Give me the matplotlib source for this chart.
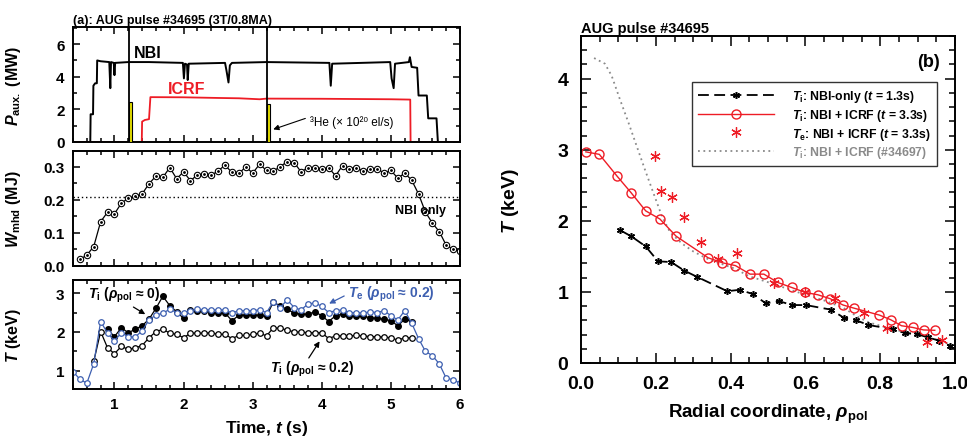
import matplotlib
matplotlib.use('Agg')
import matplotlib.pyplot as plt
from matplotlib.ticker import MultipleLocator, FormatStrFormatter

plt.rcParams['font.family'] = ['Liberation Sans', 'DejaVu Sans']
plt.rcParams['font.weight'] = 'bold'
plt.rcParams['axes.labelweight'] = 'bold'
plt.rcParams['axes.titleweight'] = 'bold'
plt.rcParams['mathtext.fontset'] = 'custom'
plt.rcParams['mathtext.rm'] = 'Liberation Sans:bold'
plt.rcParams['mathtext.it'] = 'Liberation Sans:bold:italic'
plt.rcParams['mathtext.bf'] = 'Liberation Sans:bold'
plt.rcParams['mathtext.sf'] = 'Liberation Sans:bold'
plt.rcParams['axes.linewidth'] = 1.4

# ---------------- data: panel (a) top ----------------
nbi_t = [0.40, 0.65, 0.655, 0.69, 0.695, 0.72, 0.745, 0.75, 0.80, 0.925, 0.94, 0.95, 0.99, 1.00,
         1.01, 1.20, 1.50, 1.99, 2.005, 2.02, 2.05, 2.06, 2.075, 2.60, 2.62, 2.65, 2.67, 2.70,
         3.20, 4.11, 4.13, 4.15, 4.99, 5.01, 5.04, 5.06, 5.26, 5.275, 5.30, 5.38, 5.40, 5.52,
         5.54, 5.66, 5.68, 6.00]
nbi_p = [0.0, 0.0, 1.7, 1.7, 3.45, 3.6, 3.6, 5.0, 4.95, 4.9, 3.3, 4.9, 4.85, 4.1,
         4.85, 4.9, 4.9, 4.85, 3.9, 4.8, 4.75, 3.8, 4.8, 4.85, 4.4, 3.65, 4.7, 4.85,
         4.9, 4.85, 3.45, 4.8, 4.9, 3.9, 3.3, 4.8, 4.9, 5.2, 4.6, 4.55, 2.85, 2.85,
         1.45, 1.45, 0.0, 0.0]
icrf_t = [0.40, 1.395, 1.40, 1.44, 1.50, 1.52, 2.00, 2.50, 2.80, 3.10, 3.20, 4.00, 5.00, 5.28, 5.285, 6.00]
icrf_p = [0.0, 0.0, 1.25, 1.35, 1.4, 2.75, 2.74, 2.70, 2.68, 2.62, 2.66, 2.65, 2.62, 2.60, 0.0, 0.0]
he3_t = [1.207, 3.207]
he3_rate = [2.44, 2.34]
he3_width = 0.045

# ---------------- data: panel (a) middle ----------------
w_t = [0.5, 0.6, 0.7, 0.8, 0.9, 1.0, 1.1, 1.2, 1.3, 1.4, 1.5, 1.6, 1.7, 1.8, 1.9, 2.0,
       2.1, 2.2, 2.3, 2.4, 2.5, 2.6, 2.7, 2.8, 2.9, 3.0, 3.1, 3.2, 3.3, 3.4, 3.5, 3.6,
       3.7, 3.8, 3.9, 4.0, 4.1, 4.2, 4.3, 4.4, 4.5, 4.6, 4.7, 4.8, 4.9, 5.0, 5.1, 5.2,
       5.3, 5.4, 5.5, 5.6, 5.7, 5.8, 5.9, 6.0]
w_mhd = [0.020, 0.033, 0.059, 0.134, 0.163, 0.158, 0.190, 0.205, 0.211, 0.218, 0.249, 0.272,
         0.268, 0.298, 0.264, 0.285, 0.258, 0.276, 0.277, 0.274, 0.288, 0.305, 0.283, 0.280,
         0.300, 0.281, 0.308, 0.289, 0.287, 0.301, 0.316, 0.313, 0.285, 0.297, 0.297, 0.293,
         0.297, 0.273, 0.304, 0.295, 0.298, 0.286, 0.294, 0.295, 0.281, 0.289, 0.266, 0.281,
         0.260, 0.218, 0.163, 0.130, 0.104, 0.063, 0.051, 0.046]
w_nbi_only = 0.21

# ---------------- data: panel (a) bottom ----------------
te_t = [0.4, 0.5, 0.6, 0.7, 0.8, 0.9, 1.0, 1.1, 1.2, 1.3, 1.4, 1.5, 1.6, 1.7, 1.8, 1.9,
        2.0, 2.1, 2.2, 2.3, 2.4, 2.5, 2.6, 2.7, 2.8, 2.9, 3.0, 3.1, 3.2, 3.3, 3.4, 3.5,
        3.6, 3.7, 3.8, 3.9, 4.0, 4.1, 4.2, 4.3, 4.4, 4.5, 4.6, 4.7, 4.8, 4.9, 5.0, 5.1,
        5.2, 5.3, 5.4, 5.5, 5.6, 5.7, 5.8, 5.9, 6.0]
te_02 = [0.98, 0.78, 0.68, 1.18, 2.27, 1.97, 1.77, 1.98, 1.88, 1.87, 2.03, 2.31, 2.44, 2.48,
         2.59, 2.50, 2.48, 2.55, 2.59, 2.57, 2.57, 2.57, 2.57, 2.49, 2.55, 2.55, 2.55, 2.57,
         2.50, 2.78, 2.63, 2.83, 2.63, 2.57, 2.72, 2.75, 2.66, 2.50, 2.55, 2.57, 2.50, 2.50,
         2.49, 2.52, 2.50, 2.55, 2.42, 2.31, 2.55, 2.23, 1.83, 1.50, 1.39, 1.18, 0.81, 0.77, 0.68]
ti0_t = [0.9, 1.0, 1.1, 1.2, 1.3, 1.4, 1.5, 1.6, 1.7, 1.8, 1.9, 2.0, 2.1, 2.2, 2.3, 2.4,
         2.5, 2.6, 2.7, 2.8, 2.9, 3.0, 3.1, 3.2, 3.3, 3.4, 3.5, 3.6, 3.7, 3.8, 3.9, 4.0,
         4.1, 4.2, 4.3, 4.4, 4.5, 4.6, 4.7, 4.8, 4.9, 5.0, 5.1, 5.2, 5.3]
ti_00 = [2.07, 1.88, 2.11, 1.98, 2.07, 2.16, 2.33, 2.61, 2.92, 2.68, 2.52, 2.35, 2.57, 2.55,
         2.55, 2.50, 2.50, 2.49, 2.29, 2.43, 2.43, 2.43, 2.43, 2.40, 2.78, 2.66, 2.59, 2.48,
         2.46, 2.46, 2.52, 2.42, 2.27, 2.42, 2.46, 2.42, 2.40, 2.40, 2.37, 2.35, 2.33, 2.29,
         2.16, 2.33, 2.27]
ti2_t = [0.7, 0.8, 0.9, 1.0, 1.1, 1.2, 1.3, 1.4, 1.5, 1.6, 1.7, 1.8, 1.9, 2.0, 2.1, 2.2,
         2.3, 2.4, 2.5, 2.6, 2.7, 2.8, 2.9, 3.0, 3.1, 3.2, 3.3, 3.4, 3.5, 3.6, 3.7, 3.8,
         3.9, 4.0, 4.1, 4.2, 4.3, 4.4, 4.5, 4.6, 4.7, 4.8, 4.9, 5.0, 5.1, 5.2, 5.3]
ti_02 = [1.24, 2.01, 1.59, 1.44, 1.63, 1.55, 1.59, 1.65, 1.85, 2.01, 2.07, 1.97, 1.94, 1.85,
         1.97, 1.97, 1.97, 1.98, 1.94, 1.94, 1.83, 1.91, 1.91, 1.94, 1.97, 1.90, 2.11, 2.09,
         2.05, 2.00, 2.00, 1.98, 1.98, 1.98, 1.83, 1.90, 1.90, 1.90, 1.91, 1.90, 1.88, 1.88,
         1.87, 1.85, 1.79, 1.85, 1.85]

# ---------------- data: panel (b) ----------------
rho_nbi = [0.104, 0.135, 0.173, 0.206, 0.241, 0.276, 0.311, 0.391, 0.425, 0.459, 0.494, 0.530,
           0.564, 0.601, 0.669, 0.703, 0.736, 0.768, 0.834, 0.866, 0.898, 0.928, 0.958, 0.986]
ti_nbi = [1.87, 1.78, 1.64, 1.43, 1.42, 1.30, 1.21, 1.01, 1.03, 0.97, 0.84, 0.87,
          0.815, 0.815, 0.75, 0.635, 0.60, 0.535, 0.475, 0.42, 0.407, 0.36, 0.313, 0.245]
rho_icrf = [0.013, 0.049, 0.097, 0.134, 0.173, 0.211, 0.254, 0.340, 0.378, 0.413, 0.452, 0.489,
            0.526, 0.563, 0.599, 0.633, 0.666, 0.701, 0.731, 0.798, 0.828, 0.857, 0.887, 0.916, 0.946]
ti_icrf = [2.97, 2.935, 2.625, 2.395, 2.14, 2.025, 1.785, 1.48, 1.41, 1.37, 1.25, 1.25,
           1.133, 1.063, 0.993, 0.96, 0.905, 0.815, 0.77, 0.674, 0.609, 0.524, 0.50, 0.465, 0.46]
rho_te = [0.198, 0.213, 0.243, 0.276, 0.322, 0.365, 0.417, 0.516, 0.599, 0.679, 0.758, 0.818, 0.924, 0.966]
te_icrf = [2.91, 2.415, 2.34, 2.06, 1.705, 1.47, 1.55, 1.13, 1.00, 0.913, 0.705, 0.49, 0.29, 0.318]
rho_34697 = [0.035, 0.064, 0.082, 0.104, 0.127, 0.149, 0.171, 0.193, 0.216, 0.238, 0.27, 0.30,
             0.34, 0.41, 0.45, 0.51, 0.56, 0.60, 0.65, 0.70, 0.74, 0.77, 0.83, 0.87, 0.90, 0.95, 0.99]
ti_34697 = [4.29, 4.21, 4.04, 3.71, 3.38, 3.05, 2.72, 2.40, 2.07, 1.84, 1.68, 1.57,
            1.46, 1.33, 1.22, 1.12, 1.03, 0.96, 0.88, 0.78, 0.65, 0.57, 0.48, 0.43, 0.40, 0.33, 0.255]

BLUE = '#3d5fb0'
RED = '#ee1c25'
GRAY = '#8a8a8a'

fig = plt.figure(figsize=(9.67, 4.39), dpi=100)
W, H = 967.0, 439.0

def add_ax(x0, y0, x1, y1):
    return fig.add_axes([x0 / W, 1 - y1 / H, (x1 - x0) / W, (y1 - y0) / H])

ax1 = add_ax(73, 28, 460, 143)
ax2 = add_ax(73, 152, 460, 267)
ax3 = add_ax(73, 281, 460, 390)
axb = add_ax(581, 37, 955, 364)

def style(ax, maj=5, mnr=3, pad=6):
    ax.tick_params(which='both', direction='in', top=True, right=True, width=1.1, pad=pad)
    ax.tick_params(which='major', length=maj)
    ax.tick_params(which='minor', length=mnr)

for ax in (ax1, ax2, ax3):
    ax.set_xlim(0.4, 6.0)
    ax.xaxis.set_major_locator(MultipleLocator(1))
    ax.xaxis.set_minor_locator(MultipleLocator(0.2))
    style(ax, pad=6)
    ax.tick_params(labelsize=11)
ax1.tick_params(labelbottom=False)
ax2.tick_params(labelbottom=False)

# ---- top panel ----
ax1.plot(nbi_t, nbi_p, color='black', lw=1.4)
ax1.plot(icrf_t, icrf_p, color=RED, lw=1.3)
ax1.bar(he3_t, he3_rate, width=he3_width, align='edge', color='#e6e000', edgecolor='black', lw=0.8, zorder=3)
for tv in he3_t:
    ax1.axvline(tv, color='black', lw=1.3, zorder=4)
ax1.set_ylim(0, 7.05)
ax1.yaxis.set_major_locator(MultipleLocator(2))
ax1.yaxis.set_minor_locator(MultipleLocator(1))
ax1.text(1.28, 5.5, 'NBI', fontsize=11.5, fontweight='bold', va='center')
ax1.text(1.78, 3.3, 'ICRF', fontsize=11.5, fontweight='bold', color=RED, va='center')
ax1.annotate('', xy=(3.26, 0.72), xytext=(3.80, 1.5),
             arrowprops=dict(arrowstyle='-|>', color='black', lw=0.8, mutation_scale=8))
ax1.text(3.83, 1.25, '³He (× 10²⁰ el/s)', fontsize=8.5, fontweight='normal', va='center')
ax1.set_title('(a): AUG pulse #34695 (3T/0.8MA)', fontsize=9, fontweight='bold', loc='left', pad=3)
ax1.set_ylabel(r'$P_{\mathrm{aux.}}$ (MW)', fontsize=11.5)

# ---- middle panel ----
ax2.plot(w_t, w_mhd, color='black', lw=0.9, marker='o', ms=4.6, mfc='white', mec='black', mew=0.8)
ax2.plot(w_t, w_mhd, ls='none', marker='o', ms=1.0, color='black')
ax2.axhline(w_nbi_only, color='black', lw=1.0, ls=(0, (1, 2)))
ax2.text(5.06, 0.17, 'NBI only', fontsize=9, fontweight='bold', va='center')
ax2.set_ylim(0, 0.348)
ax2.yaxis.set_major_locator(MultipleLocator(0.1))
ax2.yaxis.set_minor_locator(MultipleLocator(0.05))
ax2.yaxis.set_major_formatter(FormatStrFormatter('%.1f'))
ax2.set_ylabel(r'$W_{\mathrm{mhd}}$ (MJ)', fontsize=11.5)

# ---- bottom panel ----
ax3.plot(ti2_t, ti_02, color='black', lw=0.9, marker='o', ms=4, mfc='white', mec='black', mew=0.9)
ax3.plot(ti0_t, ti_00, color='black', lw=0.9, marker='o', ms=4, mfc='black', mec='black')
ax3.plot(te_t, te_02, color=BLUE, lw=0.9, marker='o', ms=4, mfc='white', mec=BLUE, mew=0.9)
ax3.set_ylim(0.53, 3.34)
ax3.yaxis.set_major_locator(MultipleLocator(1))
ax3.yaxis.set_minor_locator(MultipleLocator(0.5))
ax3.text(0.62, 2.98, r'$T_{\mathrm{i}}$ ($\rho_{\mathrm{pol}}$ ≈ 0)', fontsize=10, va='center')
ax3.annotate('', xy=(1.48, 2.42), xytext=(1.24, 2.68),
             arrowprops=dict(arrowstyle='-|>', color='black', lw=0.9, mutation_scale=8))
ax3.text(4.38, 3.0, r'$T_{\mathrm{e}}$ ($\rho_{\mathrm{pol}}$ ≈ 0.2)', fontsize=10, va='center', color=BLUE)
ax3.annotate('', xy=(4.07, 2.70), xytext=(4.36, 2.96),
             arrowprops=dict(arrowstyle='-|>', color=BLUE, lw=0.9, mutation_scale=8))
ax3.text(3.25, 1.06, r'$T_{\mathrm{i}}$ ($\rho_{\mathrm{pol}}$ ≈ 0.2)', fontsize=10, va='center')
ax3.annotate('', xy=(3.99, 1.82), xytext=(3.79, 1.27),
             arrowprops=dict(arrowstyle='-|>', color='black', lw=0.9, mutation_scale=8))
ax3.set_ylabel(r'$T$ (keV)', fontsize=11.5)
ax3.set_xlabel(r'Time, $t$ (s)', fontsize=12.5, labelpad=5)

for ax in (ax1, ax2, ax3):
    ax.yaxis.set_label_coords(-0.128, 0.5)

# ---- panel (b) ----
axb.plot(rho_34697, ti_34697, color=GRAY, lw=1.3, ls=(0, (1, 2)),
         label=r'$T_{\mathrm{i}}$: NBI + ICRF (#34697)')
axb.plot(rho_nbi, ti_nbi, color='black', lw=1.3, ls=(0, (6, 3)), marker=(6, 2, 0), ms=5, mew=1.1,
         label=r'$T_{\mathrm{i}}$: NBI-only ($t$ = 1.3s)')
axb.plot(rho_icrf, ti_icrf, color=RED, lw=1.0, marker='o', ms=6.5, mfc='none', mec=RED, mew=1.0,
         label=r'$T_{\mathrm{i}}$: NBI + ICRF ($t$ = 3.3s)')
axb.plot(rho_te, te_icrf, ls='none', color=RED, marker=(6, 2, 0), ms=7.5, mew=0.9,
         label=r'$T_{\mathrm{e}}$: NBI + ICRF ($t$ = 3.3s)')
axb.set_xlim(0, 1.0)
axb.set_ylim(0, 4.6)
axb.xaxis.set_major_locator(MultipleLocator(0.2))
axb.xaxis.set_minor_locator(MultipleLocator(0.05))
axb.yaxis.set_major_locator(MultipleLocator(1))
axb.yaxis.set_minor_locator(MultipleLocator(0.2))
axb.xaxis.set_major_formatter(FormatStrFormatter('%.1f'))
style(axb, maj=7, mnr=4, pad=9)
axb.tick_params(labelsize=14)
axb.set_xlabel(r'Radial coordinate, $\rho_{\mathrm{pol}}$', fontsize=13.5, labelpad=7)
axb.set_ylabel(r'$T$ (keV)', fontsize=14)
axb.yaxis.set_label_coords(-0.16, 0.5)
axb.set_title('AUG pulse #34695', fontsize=10.5, fontweight='bold', loc='left', pad=3)
axb.text(0.96, 0.923, '(b)', transform=axb.transAxes, fontsize=13, fontweight='bold', ha='right', va='center')

h, l = axb.get_legend_handles_labels()
order = [1, 2, 3, 0]
leg = axb.legend([h[i] for i in order], [l[i] for i in order], loc='upper right',
                 bbox_to_anchor=(0.952, 0.859), fontsize=8.8, frameon=True, fancybox=False,
                 edgecolor='black', handlelength=6.2, handletextpad=1.5, borderpad=0.5,
                 labelspacing=0.22, borderaxespad=0)
leg.get_frame().set_linewidth(1.0)
for txt, c in zip(leg.get_texts(), ['black', 'black', 'black', GRAY]):
    txt.set_color(c)

for ax in (ax1, ax2, ax3, axb):
    for lab in ax.get_xticklabels() + ax.get_yticklabels():
        lab.set_fontweight('bold')

fig.savefig('out.png', dpi=100)
